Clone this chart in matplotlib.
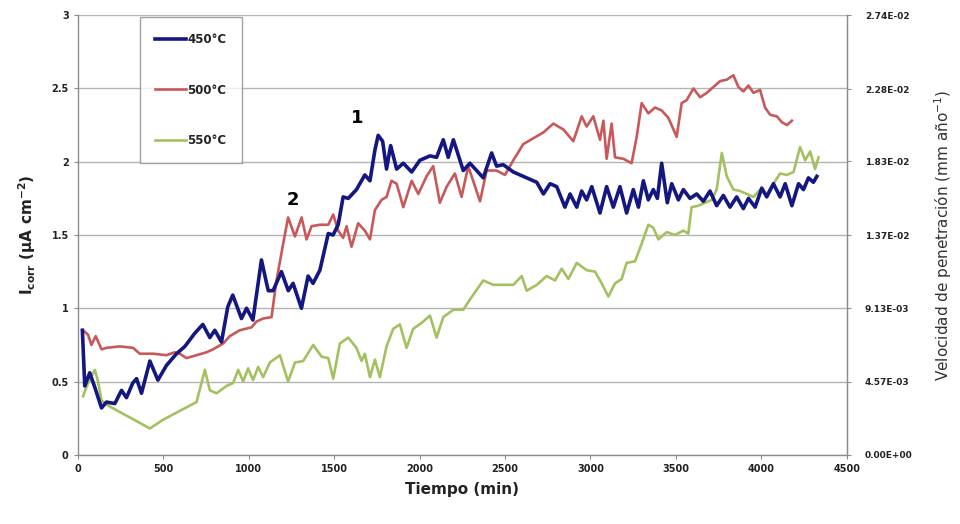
import matplotlib
matplotlib.use("Agg")
import matplotlib.pyplot as plt

# 450 C series (time in min, I_corr in uA/cm2)
t_450 = [27, 41, 70, 100, 139, 168, 217, 256, 285, 322, 344, 373, 422, 469, 519, 578, 627,
         685, 732, 773, 802, 841, 878, 907, 958, 988, 1025, 1075, 1105, 1115, 1143, 1192,
         1232, 1260, 1309, 1348, 1377, 1417, 1466, 1494, 1524, 1553, 1583, 1631, 1680, 1710,
         1739, 1758, 1784, 1807, 1831, 1866, 1905, 1954, 2002, 2061, 2100, 2139, 2168, 2198,
         2256, 2295, 2334, 2373, 2422, 2451, 2490, 2549, 2627, 2686, 2725, 2764, 2803, 2851,
         2881, 2920, 2949, 2978, 3008, 3056, 3095, 3134, 3173, 3212, 3251, 3281, 3310, 3339,
         3368, 3392, 3417, 3450, 3476, 3515, 3544, 3583, 3622, 3661, 3700, 3739, 3778, 3817,
         3856, 3895, 3925, 3964, 4003, 4032, 4071, 4110, 4140, 4179, 4218, 4247, 4276, 4305, 4325]
i_450 = [0.85, 0.47, 0.56, 0.46, 0.32, 0.36, 0.35, 0.44, 0.39, 0.49, 0.52, 0.42, 0.64, 0.51,
         0.61, 0.69, 0.74, 0.83, 0.89, 0.80, 0.85, 0.77, 1.01, 1.09, 0.93, 1.00, 0.92, 1.33,
         1.17, 1.12, 1.12, 1.25, 1.12, 1.17, 1.00, 1.22, 1.17, 1.26, 1.51, 1.50, 1.57, 1.76,
         1.75, 1.81, 1.91, 1.87, 2.08, 2.18, 2.14, 1.95, 2.11, 1.95, 1.99, 1.93, 2.01, 2.04,
         2.03, 2.15, 2.03, 2.15, 1.94, 1.99, 1.94, 1.89, 2.06, 1.97, 1.98, 1.93, 1.89, 1.86,
         1.78, 1.85, 1.83, 1.69, 1.78, 1.69, 1.80, 1.74, 1.83, 1.65, 1.83, 1.69, 1.83, 1.65,
         1.81, 1.69, 1.87, 1.74, 1.81, 1.75, 1.99, 1.72, 1.85, 1.74, 1.81, 1.75, 1.78, 1.73,
         1.80, 1.70, 1.77, 1.69, 1.76, 1.68, 1.75, 1.69, 1.82, 1.76, 1.85, 1.76, 1.85, 1.70,
         1.85, 1.81, 1.89, 1.86, 1.90]

# 500 C series
t_500 = [31, 60, 80, 105, 139, 168, 246, 324, 363, 441, 519, 568, 597, 636, 695, 754, 792,
         851, 890, 948, 1017, 1046, 1085, 1134, 1163, 1202, 1231, 1271, 1310, 1339, 1368,
         1417, 1466, 1495, 1524, 1553, 1573, 1602, 1641, 1680, 1710, 1739, 1778, 1807, 1836,
         1866, 1905, 1954, 1993, 2041, 2080, 2119, 2159, 2207, 2246, 2285, 2354, 2393, 2451,
         2500, 2549, 2607, 2666, 2725, 2783, 2842, 2900, 2949, 2978, 3017, 3056, 3076, 3095,
         3124, 3144, 3193, 3241, 3271, 3300, 3339, 3378, 3417, 3456, 3505, 3534, 3563, 3603,
         3642, 3681, 3720, 3759, 3798, 3837, 3866, 3895, 3925, 3954, 3993, 4022, 4052, 4091,
         4120, 4150, 4179]
i_500 = [0.85, 0.82, 0.75, 0.81, 0.72, 0.73, 0.74, 0.73, 0.69, 0.69, 0.68, 0.70, 0.69, 0.66,
         0.68, 0.70, 0.72, 0.76, 0.81, 0.85, 0.87, 0.91, 0.93, 0.94, 1.19, 1.44, 1.62, 1.49,
         1.62, 1.47, 1.56, 1.57, 1.57, 1.64, 1.53, 1.48, 1.56, 1.42, 1.58, 1.53, 1.47, 1.67,
         1.74, 1.76, 1.87, 1.85, 1.69, 1.87, 1.78, 1.90, 1.97, 1.72, 1.83, 1.92, 1.76, 1.97,
         1.73, 1.94, 1.94, 1.91, 2.01, 2.12, 2.16, 2.20, 2.26, 2.22, 2.14, 2.31, 2.24, 2.31,
         2.15, 2.28, 2.02, 2.26, 2.03, 2.02, 1.99, 2.17, 2.40, 2.33, 2.37, 2.35, 2.30, 2.17,
         2.40, 2.42, 2.50, 2.44, 2.47, 2.51, 2.55, 2.56, 2.59, 2.51, 2.48, 2.52, 2.47, 2.49,
         2.37, 2.32, 2.31, 2.27, 2.25, 2.28]

# 550 C series
t_550 = [31, 60, 100, 119, 139, 187, 265, 344, 422, 500, 597, 695, 724, 744, 773, 812, 871,
         909, 939, 968, 997, 1026, 1056, 1085, 1124, 1183, 1231, 1271, 1319, 1378, 1427, 1466,
         1495, 1534, 1583, 1631, 1661, 1680, 1710, 1739, 1768, 1807, 1846, 1885, 1924, 1963,
         2012, 2061, 2100, 2139, 2198, 2256, 2295, 2373, 2432, 2549, 2598, 2627, 2686, 2744,
         2793, 2832, 2871, 2920, 2978, 3027, 3066, 3105, 3144, 3183, 3212, 3261, 3300, 3339,
         3368, 3398, 3446, 3495, 3544, 3573, 3592, 3632, 3671, 3710, 3739, 3769, 3798, 3837,
         3876, 3915, 3954, 3993, 4032, 4071, 4110, 4149, 4189, 4227, 4257, 4286, 4315, 4335]
i_550 = [0.40, 0.49, 0.58, 0.50, 0.37, 0.33, 0.28, 0.23, 0.18, 0.24, 0.30, 0.36, 0.49, 0.58,
         0.44, 0.42, 0.47, 0.49, 0.58, 0.50, 0.59, 0.51, 0.60, 0.53, 0.63, 0.68, 0.50, 0.63,
         0.64, 0.75, 0.67, 0.66, 0.52, 0.76, 0.80, 0.73, 0.64, 0.69, 0.53, 0.65, 0.53, 0.74,
         0.86, 0.89, 0.73, 0.86, 0.90, 0.95, 0.80, 0.94, 0.99, 0.99, 1.06, 1.19, 1.16, 1.16,
         1.22, 1.12, 1.16, 1.22, 1.19, 1.27, 1.20, 1.31, 1.26, 1.25, 1.17, 1.08, 1.17, 1.20,
         1.31, 1.32, 1.44, 1.57, 1.55, 1.47, 1.52, 1.50, 1.53, 1.51, 1.69, 1.70, 1.72, 1.74,
         1.81, 2.06, 1.90, 1.81, 1.80, 1.78, 1.76, 1.81, 1.78, 1.85, 1.92, 1.91, 1.93, 2.10,
         2.01, 2.07, 1.95, 2.03]

labels = ['450°C', '500°C', '550°C']
colors = ['#14177f', '#c9585a', '#a3c160']

x_ticks = [0, 500, 1000, 1500, 2000, 2500, 3000, 3500, 4000, 4500]
y_ticks = [0, 0.5, 1, 1.5, 2, 2.5, 3]
y_tick_labels = ['0', '0.5', '1', '1.5', '2', '2.5', '3']
rate_ticks = [0.0, 4.57e-3, 9.13e-3, 1.37e-2, 1.83e-2, 2.28e-2, 2.74e-2]

GRAY = '#8c8c8c'

fig = plt.figure(figsize=(9.6, 5.24), dpi=100)
ax = fig.add_axes([0.081, 0.132, 0.801, 0.839])

ax.plot(t_450, i_450, color=colors[0], lw=2.6, label=labels[0], zorder=4)
ax.plot(t_500, i_500, color=colors[1], lw=1.9, label=labels[1], zorder=3)
ax.plot(t_550, i_550, color=colors[2], lw=1.9, label=labels[2], zorder=2)

ax.set_xlim(0, 4500)
ax.set_ylim(0, 3)
ax.set_xticks(x_ticks)
ax.set_xticklabels([str(v) for v in x_ticks])
ax.set_yticks(y_ticks)
ax.set_yticklabels(y_tick_labels)
ax.grid(axis='y', color='#b4b4b4', lw=1.0)
ax.set_axisbelow(True)

for side in ['left', 'bottom', 'right']:
    ax.spines[side].set_color(GRAY)
    ax.spines[side].set_linewidth(1.0)
ax.spines['top'].set_visible(False)
ax.tick_params(axis='both', labelsize=7, colors='#222222', length=3, color=GRAY)
for lab in ax.get_xticklabels() + ax.get_yticklabels():
    lab.set_fontweight('bold')

ax.set_xlabel('Tiempo (min)', fontsize=11, fontweight='bold', color='#222222', labelpad=6)
ax.set_ylabel('I$_{\\mathbf{corr}}$ (µA cm$^{\\mathbf{-2}}$)', fontsize=11,
              fontweight='bold', color='#222222', labelpad=10)

# right axis: penetration rate
ax2 = ax.twinx()
ax2.set_ylim(0, 2.74e-2)
ax2.set_yticks(rate_ticks)
ax2.set_yticklabels(['%.2E' % v for v in rate_ticks])
ax2.spines['top'].set_visible(False)
ax2.spines['right'].set_color(GRAY)
ax2.spines['left'].set_visible(False)
ax2.spines['bottom'].set_visible(False)
ax2.tick_params(axis='y', labelsize=6.5, colors='#222222', length=3, color=GRAY, pad=10)
for lab in ax2.get_yticklabels():
    lab.set_fontweight('bold')
ax2.set_ylabel('Velocidad de penetración (mm año$^{-1}$)', fontsize=11,
               color='#333333', labelpad=14)

ax.text(1634, 2.30, '1', fontsize=13, fontweight='bold', ha='center', va='center')
ax.text(1259, 1.74, '2', fontsize=13, fontweight='bold', ha='center', va='center')

leg = ax.legend(loc='upper left', bbox_to_anchor=(0.081, 0.995), frameon=True,
                fancybox=False, edgecolor=GRAY, fontsize=8.5, labelspacing=3.2,
                handlelength=2.6, handletextpad=0.1, borderpad=1.3, borderaxespad=0)
leg.get_frame().set_linewidth(1.0)
for txt in leg.get_texts():
    txt.set_fontweight('bold')
    txt.set_color('#222222')

fig.savefig('out.png', dpi=100)
